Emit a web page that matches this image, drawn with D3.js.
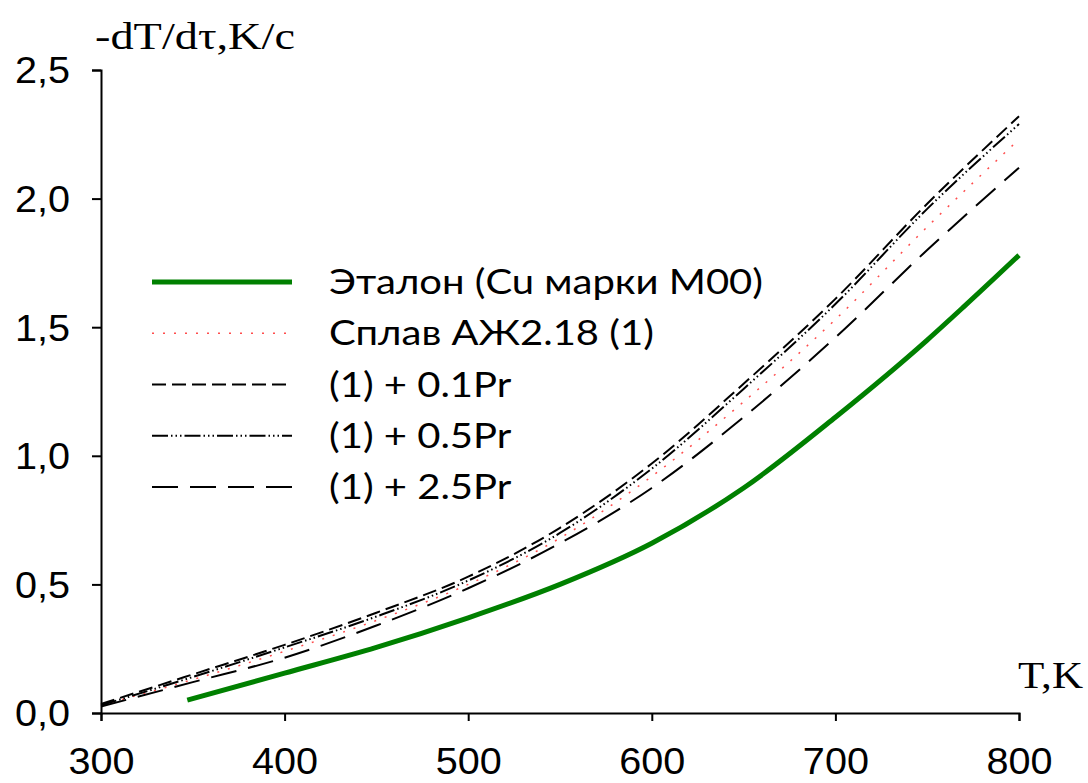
<!DOCTYPE html>
<html>
<head>
<meta charset="utf-8">
<script src="https://cdn.jsdelivr.net/npm/d3@7"></script>
<style>
  html, body { margin: 0; padding: 0; background: #fff; }
  svg { display: block; }
</style>
</head>
<body>
<svg id="chart" width="1088" height="783"></svg>
<script>
// ---- data ----
const xTicks = [300, 400, 500, 600, 700, 800];
const yTicks = [0, 0.5, 1.0, 1.5, 2.0, 2.5];

const tempsEtalon = [347, 400, 450, 500, 550, 600, 650, 700, 750, 770, 800];
const etalon      = [0.05, 0.155, 0.255, 0.37, 0.50, 0.66, 0.875, 1.15, 1.45, 1.58, 1.78];

const temps  = [300, 350, 400, 450, 500, 550, 600, 650, 700, 750, 800];
const alloy  = [0.03, 0.13, 0.24, 0.36, 0.50, 0.68, 0.92, 1.21, 1.53, 1.89, 2.23];
const pr01   = [0.035, 0.15, 0.265, 0.39, 0.53, 0.72, 0.97, 1.28, 1.61, 1.98, 2.32];
const pr05   = [0.03, 0.14, 0.255, 0.375, 0.515, 0.70, 0.95, 1.26, 1.59, 1.96, 2.29];
const pr25   = [0.025, 0.12, 0.215, 0.34, 0.485, 0.66, 0.875, 1.15, 1.46, 1.80, 2.12];

const legendLabels = ["Эталон (Cu марки М00)", "Сплав АЖ2.18 (1)", "(1) + 0.1Pr", "(1) + 0.5Pr", "(1) + 2.5Pr"];

// ---- chart ----
const svg = d3.select("#chart");
const x = d3.scaleLinear().domain([300, 800]).range([101, 1019]);
const y = d3.scaleLinear().domain([0, 2.5]).range([713, 70]);

function stretch(sel, f) {
  sel.each(function () {
    const w = this.getComputedTextLength();
    d3.select(this).attr("textLength", w * f).attr("lengthAdjust", "spacingAndGlyphs");
  });
}

// axes
const xAxis = svg.append("g").attr("transform", `translate(0,${y(0)})`)
  .call(d3.axisBottom(x).tickValues(xTicks).tickSize(8).tickPadding(27).tickFormat(d3.format("d")));
const yAxis = svg.append("g").attr("transform", `translate(${x(300)},0)`)
  .call(d3.axisLeft(y).tickValues(yTicks).tickSize(9).tickPadding(22).tickFormat(d => d3.format(".1f")(d).replace(".", ",")));

[xAxis, yAxis].forEach(a => {
  a.select(".domain").attr("stroke", "#000").attr("stroke-width", 2);
  a.selectAll(".tick line").attr("stroke", "#000").attr("stroke-width", 2);
  a.selectAll(".tick text").attr("fill", "#000")
    .style("font-family", "'Liberation Sans', Arial, sans-serif").style("font-size", "36px");
});
xAxis.selectAll(".tick text").attr("dy", "0.71em");
yAxis.selectAll(".tick text").attr("dy", "0.36em");
stretch(xAxis.selectAll(".tick text"), 1.1);
stretch(yAxis.selectAll(".tick text"), 1.1);

// axis titles
const yTitle = svg.append("text").attr("x", 95).attr("y", 49)
  .style("font-family", "'Liberation Serif', 'Times New Roman', serif").style("font-size", "38px")
  .text("-dT/dτ,K/c");
yTitle.attr("textLength", 200).attr("lengthAdjust", "spacingAndGlyphs");
const xTitle = svg.append("text").attr("x", 1018).attr("y", 688)
  .style("font-family", "'Liberation Serif', 'Times New Roman', serif").style("font-size", "38px")
  .text("T,K");
xTitle.attr("textLength", 65).attr("lengthAdjust", "spacingAndGlyphs");

// series
const lineGen = d3.line().x(d => x(d[0])).y(d => y(d[1])).curve(d3.curveMonotoneX);
const series = [
  { pts: d3.zip(tempsEtalon, etalon), stroke: "#008000", width: 5, dash: null },
  { pts: d3.zip(temps, alloy), stroke: "#ff4d4d", width: 1.5, dash: "2,9" },
  { pts: d3.zip(temps, pr01), stroke: "#000", width: 2, dash: "14,6" },
  { pts: d3.zip(temps, pr05), stroke: "#000", width: 2, dash: "16,3,1.5,3,1.5,3,1.5,3" },
  { pts: d3.zip(temps, pr25), stroke: "#000", width: 2, dash: "26,12" }
];

svg.append("g").selectAll("path").data(series).join("path")
  .attr("d", d => lineGen(d.pts))
  .attr("fill", "none")
  .attr("stroke", d => d.stroke)
  .attr("stroke-width", d => d.width)
  .attr("stroke-dasharray", d => d.dash);

// legend
const lg = svg.append("g");
const rowY = d3.scaleLinear().domain([0, 4]).range([282, 487]);
const rows = lg.selectAll("g").data(series).join("g")
  .attr("transform", (d, i) => `translate(0,${rowY(i)})`);
rows.append("line").attr("x1", 152).attr("x2", 292).attr("y1", 0).attr("y2", 0)
  .attr("stroke", d => d.stroke)
  .attr("stroke-width", d => d.width)
  .attr("stroke-dasharray", d => d.dash);
const lt = rows.append("text").attr("x", 329).attr("y", 12)
  .style("font-family", "Lato, 'Open Sans', sans-serif").style("font-size", "34px")
  .attr("fill", "#000")
  .text((d, i) => legendLabels[i]);
const w0 = lt.nodes()[0].getComputedTextLength();
stretch(lt, 434 / w0);
</script>
</body>
</html>
